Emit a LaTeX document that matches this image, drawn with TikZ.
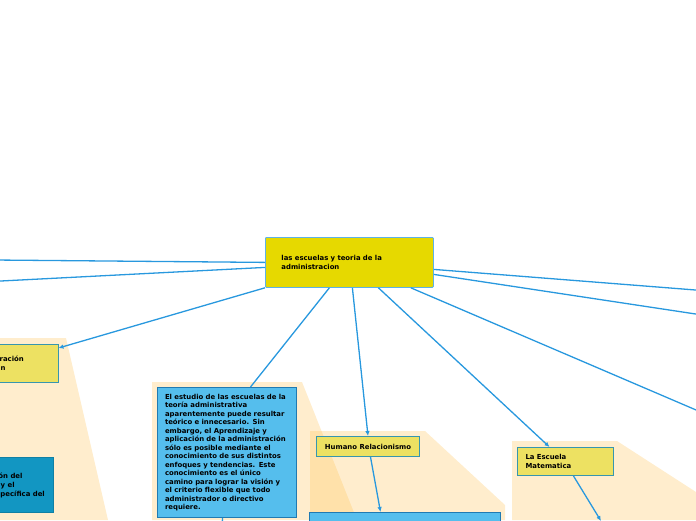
\documentclass[tikz,border=0pt]{standalone}
\usepackage{fontspec}
\setmainfont{DejaVu Sans}
\usetikzlibrary{arrows.meta}
\definecolor{rootyellow}{RGB}{230,217,0}
\definecolor{topicyellow}{RGB}{237,225,98}
\definecolor{noteblue}{RGB}{85,190,237}
\definecolor{deepblue}{RGB}{18,150,194}
\definecolor{linkblue}{RGB}{40,152,222}
\definecolor{tealedge}{RGB}{55,150,175}
\definecolor{bandorange}{RGB}{255,196,90}

\begin{document}
\begin{tikzpicture}[x=1pt, y=-1pt,
  every node/.style={font=\fontsize{6.9pt}{9pt}\selectfont\bfseries, text=black},
  root/.style={draw=linkblue!75, fill=rootyellow, line width=0.8pt, rounded corners=1pt},
  topic/.style={draw=tealedge, fill=topicyellow, line width=1pt},
  note/.style={draw=linkblue!80!black, fill=noteblue, line width=1pt},
  link/.style={draw=linkblue, line width=1.3pt},
  arr/.style={link, -{Latex[length=5pt,width=4.5pt]}},
  band/.style={fill=bandorange, fill opacity=0.3}]
\useasboundingbox (0,0) rectangle (696,520);
\clip (0,0) rectangle (696,520);
\fill[band] (0,338) -- (66,338) -- (108,520) -- (0,520) -- cycle;
\fill[band] (152,382) -- (302,382) -- (357,520) -- (152,520) -- cycle;
\fill[band] (310,431) -- (425,431) -- (505,505) -- (505,520) -- (310,520) -- cycle;
\fill[band] (512,441) -- (617,441) -- (696,492) -- (696,520) -- (512,520) -- cycle;
\node[root, anchor=north west, minimum height=50pt, text width=136pt, inner xsep=16pt, align=left] (root) at (265,237) {las escuelas y teoria de la\\administracion};
\node[note, anchor=north west, minimum height=130pt, text width=124pt, inner xsep=7.5pt, align=left, font=\fontsize{6.9pt}{8.5pt}\selectfont\bfseries] (study) at (157,387) {El estudio de las escuelas de la\\teoría administrativa\\aparentemente puede resultar\\teórico e innecesario. Sin\\embargo, el Aprendizaje y\\aplicación de la administración\\sólo es posible mediante el\\conocimiento de sus distintos\\enfoques y tendencias. Este\\conocimiento es el único\\camino para lograr la visión y\\el criterio flexible que todo\\administrador o directivo\\requiere.};
\node[topic, anchor=north west, minimum width=103pt, minimum height=20pt] (human) at (316,436) {Humano Relacionismo};
\node[note, anchor=north west, minimum width=191pt, minimum height=40pt] (humannote) at (309,512) {};
\node[topic, anchor=north west, minimum height=28pt, text width=80pt, inner xsep=8pt, align=left] (maths) at (517,447) {La Escuela\\Matematica};
\node[topic, anchor=north east, minimum width=80pt, minimum height=38pt] (classic) at (58.5,344) {};
\node[anchor=base east, inner sep=0pt] (classica) at (24,361) {ración};
\node[anchor=base west, inner sep=0pt] (classicb) at (0.5,370) {n};
\node[draw=deepblue!85!black, fill=deepblue, line width=1pt, anchor=north east, minimum width=80pt, minimum height=55pt] (role) at (54,457) {};
\node[anchor=base east, inner sep=0pt] (rolea) at (22.7,478.5) {ón del};
\node[anchor=base west, inner sep=0pt] (roleb) at (0.5,487.5) {y el};
\node[anchor=base east, inner sep=0pt] (rolec) at (45,496) {pecífica del};
\coordinate (farwesta) at (-40,259.7);
\coordinate (farwestb) at (-40,283.1);
\coordinate (fareasta) at (740,293.5);
\coordinate (fareastb) at (740,320.7);
\coordinate (fareastc) at (740,428.8);
\coordinate (studynext) at (222,530);
\coordinate (mathsnext) at (601,521);
\draw[link] (root.west) -- (farwesta);
\draw[link] ([yshift=-5pt]root.west) -- (farwestb);
\draw[arr] (root.south west) -- ([yshift=-4pt]classic.north east);
\draw[link] ([xshift=-20pt]root.south) -- ([xshift=23.5pt]study.north);
\draw[arr] ([xshift=3pt]root.south) -- (human.north);
\draw[arr] ([xshift=29pt]root.south) -- ([xshift=-16pt]maths.north);
\draw[link] ([xshift=-23pt]root.south east) -- (fareastc);
\draw[link] ([yshift=-12pt]root.east) -- (fareastb);
\draw[link] ([yshift=-7pt]root.east) -- (fareasta);
\draw[arr] ([xshift=2.5pt]human.south) -- ([xshift=-24.5pt]humannote.north);
\draw[arr] ([xshift=8pt]maths.south) -- (mathsnext);
\draw[link] ([xshift=-4.5pt]study.south) -- (studynext);
\end{tikzpicture}
\end{document}
